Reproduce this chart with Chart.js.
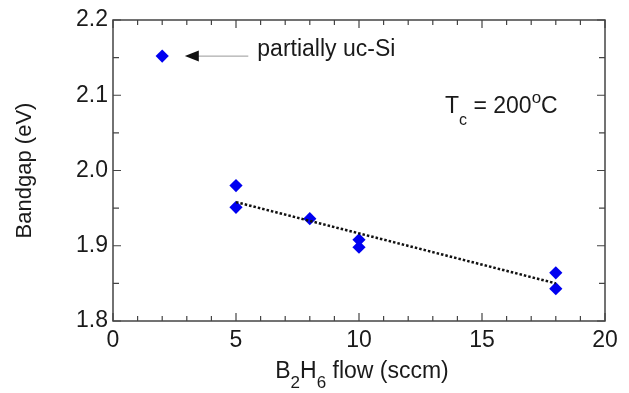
<!DOCTYPE html>
<html><head><meta charset="utf-8">
<script src="https://cdn.jsdelivr.net/npm/chart.js@4"></script>
<style>html,body{margin:0;background:#fff}#wrap{width:629px;height:393px}</style>
</head><body><div id="wrap"><canvas id="c"></canvas></div>
<script>
// measured points: B2H6 flow (sccm) vs bandgap (eV)
const flowX = [2, 5, 5, 8, 10, 10, 18, 18];
const gapY = [2.152, 1.980, 1.951, 1.936, 1.908, 1.898, 1.864, 1.843];
// linear fit (dotted)
const fitX = [5, 18];
const fitY = [1.958, 1.850];
// annotation arrow: tail x, tip x, y
const arrowX = [5.5, 2.92];
const arrowY = 2.152;
const noteText = 'partially uc-Si';

const FONT = 'Liberation Sans, Arial, sans-serif';
const AXIS = '#444';
const TXT = '#1a1a1a';

function rich(ctx, parts, x, y) {
  let cx = x;
  for (const p of parts) {
    ctx.font = p[1] + 'px ' + FONT;
    ctx.fillText(p[0], cx, y + p[2]);
    cx += ctx.measureText(p[0]).width;
  }
  return cx - x;
}
function richWidth(ctx, parts) {
  let w = 0;
  for (const p of parts) { ctx.font = p[1] + 'px ' + FONT; w += ctx.measureText(p[0]).width; }
  return w;
}

const frame = {
  id: 'frame',
  afterDraw(chart) {
    const { ctx, chartArea: a, scales: { x, y } } = chart;
    ctx.save();
    ctx.strokeStyle = AXIS;
    ctx.lineWidth = 1.5;
    ctx.strokeRect(a.left, a.top, a.right - a.left, a.bottom - a.top);
    ctx.lineWidth = 1.2;
    ctx.beginPath();
    for (let v = 0; v <= 20; v += 1) {
      const px = x.getPixelForValue(v), len = v % 5 === 0 ? 8 : 5;
      ctx.moveTo(px, a.bottom); ctx.lineTo(px, a.bottom - len);
      ctx.moveTo(px, a.top); ctx.lineTo(px, a.top + len);
    }
    for (let i = 0; i <= 8; i++) {
      const py = y.getPixelForValue(1.8 + i * 0.05), len = i % 2 === 0 ? 8 : 6;
      ctx.moveTo(a.left, py); ctx.lineTo(a.left + len, py);
      ctx.moveTo(a.right, py); ctx.lineTo(a.right - len, py);
    }
    ctx.stroke();

    // arrow to the partially uc-Si point
    const ay = y.getPixelForValue(arrowY);
    const tail = x.getPixelForValue(arrowX[0]), tip = x.getPixelForValue(arrowX[1]);
    ctx.strokeStyle = '#999';
    ctx.lineWidth = 1;
    ctx.beginPath(); ctx.moveTo(tail, ay); ctx.lineTo(tip + 12, ay); ctx.stroke();
    ctx.fillStyle = '#111';
    ctx.beginPath(); ctx.moveTo(tip, ay); ctx.lineTo(tip + 14, ay - 5.5); ctx.lineTo(tip + 14, ay + 5.5); ctx.closePath(); ctx.fill();

    ctx.fillStyle = TXT;
    ctx.textBaseline = 'alphabetic';
    ctx.textAlign = 'left';
    ctx.font = '23px ' + FONT;
    ctx.fillText(noteText, tail + 9, ay);

    // Tc label
    rich(ctx, [['T', 23, 0], ['c', 16, 12], [' = 200', 23, 0], ['o', 17, -10], ['C', 23, 0]], 445, 113);

    // x axis title
    const xt = [['B', 23, 0], ['2', 17, 10], ['H', 23, 0], ['6', 17, 10], [' flow (sccm)', 23, 0]];
    const w = richWidth(ctx, xt);
    rich(ctx, xt, (a.left + a.right) / 2 - w / 2 + 3, 378);
    ctx.restore();
  }
};

new Chart(document.getElementById('c'), {
  type: 'scatter',
  data: {
    datasets: [
      {
        type: 'line', data: fitX.map((v, i) => ({ x: v, y: fitY[i] })),
        borderColor: '#111', borderWidth: 2.5, borderDash: [2.5, 2], pointRadius: 0, fill: false
      },
      {
        data: flowX.map((v, i) => ({ x: v, y: gapY[i] })),
        pointStyle: 'rectRot', pointRadius: 6.6, backgroundColor: '#0000f0', borderColor: '#0000f0', borderWidth: 0
      }
    ]
  },
  options: {
    responsive: true, maintainAspectRatio: false, animation: false,
    layout: { padding: { top: 20, right: 24, left: 0, bottom: 0 } },
    plugins: { legend: { display: false }, tooltip: { enabled: false } },
    scales: {
      x: {
        type: 'linear', min: 0, max: 20,
        grid: { display: false, drawTicks: false },
        border: { display: false },
        ticks: { stepSize: 5, color: TXT, padding: 6, font: { family: FONT, size: 23 } },
        afterFit(s) { s.height = 72; }
      },
      y: {
        min: 1.8, max: 2.2,
        grid: { display: false, drawTicks: false },
        border: { display: false },
        ticks: { stepSize: 0.1, color: TXT, padding: 5, font: { family: FONT, size: 23 },
          callback: v => v.toFixed(1) },
        title: { display: true, text: 'Bandgap (eV)', color: TXT, font: { family: FONT, size: 22 }, padding: { top: 12 } },
        afterFit(s) { s.width = 113; }
      }
    }
  },
  plugins: [frame]
});
</script>
</body></html>
